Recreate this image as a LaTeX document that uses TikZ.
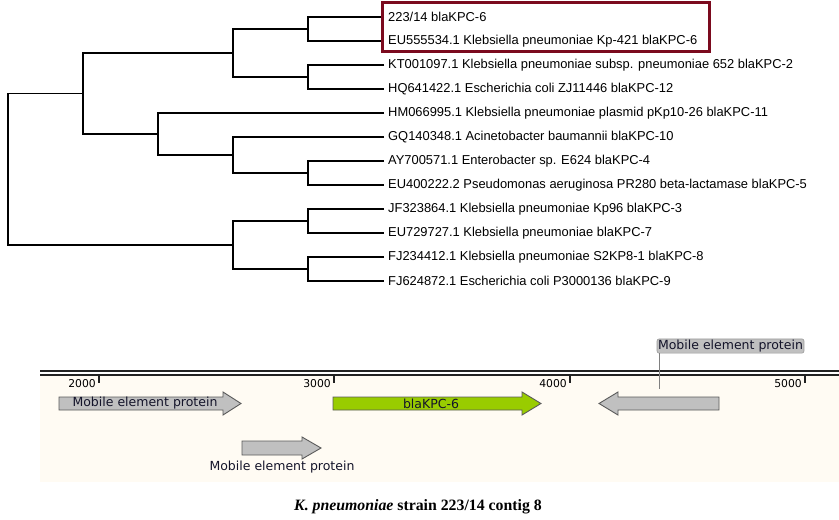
\documentclass[tikz,border=0pt]{standalone}
\usepackage{fontspec}
\setmainfont{Liberation Sans}
\newfontfamily\verd{DejaVu Sans}
\newfontfamily\capfont{Liberation Serif}
\definecolor{boxred}{HTML}{7B0A1E}
\definecolor{kpcgreen}{HTML}{99CC00}
\definecolor{genegray}{HTML}{C0C0C0}
\definecolor{geneedge}{HTML}{5A5A5A}
\definecolor{cream}{HTML}{FFFBF3}
\definecolor{ruler}{HTML}{222222}
\definecolor{labtext}{HTML}{14142A}
\begin{document}
\begin{tikzpicture}[x=1pt,y=-1pt,
  branch/.style={line width=1.3pt,black},
  leaf/.style={anchor=west,inner sep=0pt,font=\fontsize{12.9}{15}\selectfont},
  gene/.style={draw=geneedge,line width=0.9pt},
  genetext/.style={inner sep=0pt,font=\verd\fontsize{12.5}{14}\selectfont,text=labtext},
  ticklab/.style={anchor=base east,inner sep=0pt,font=\verd\fontsize{10.8}{12}\selectfont,text=black},
  tickmark/.style={line width=2pt,ruler},
  rulerline/.style={line width=2.3pt,ruler}]
\useasboundingbox (0,0) rectangle (839,520);
% ---------------- tree ----------------
\foreach \i/\t in {1/{223/14 blaKPC-6},
  2/{EU555534.1 Klebsiella pneumoniae Kp-421 blaKPC-6},
  3/{KT001097.1 Klebsiella pneumoniae subsp. pneumoniae 652 blaKPC-2},
  4/{HQ641422.1 Escherichia coli ZJ11446 blaKPC-12},
  5/{HM066995.1 Klebsiella pneumoniae plasmid pKp10-26 blaKPC-11},
  6/{GQ140348.1 Acinetobacter baumannii blaKPC-10},
  7/{AY700571.1 Enterobacter sp. E624 blaKPC-4},
  8/{EU400222.2 Pseudomonas aeruginosa PR280 beta-lactamase blaKPC-5},
  9/{JF323864.1 Klebsiella pneumoniae Kp96 blaKPC-3},
  10/{EU729727.1 Klebsiella pneumoniae blaKPC-7},
  11/{FJ234412.1 Klebsiella pneumoniae S2KP8-1 blaKPC-8},
  12/{FJ624872.1 Escherichia coli P3000136 blaKPC-9}}{
  \coordinate (e\i) at (384,{17+24*(\i-1)});
  \node[leaf] (t\i) at (388,{17+24*(\i-1)}) {\t};
}
\coordinate (p12) at (308,29);
\coordinate (p34) at (308,77);
\coordinate (q) at (233,53);
\coordinate (p78) at (308,173);
\coordinate (g) at (233,155);
\coordinate (h) at (158,134);
\coordinate (m) at (83,93.5);
\coordinate (p910) at (308,221);
\coordinate (p1112) at (308,269);
\coordinate (r) at (233,245);
\coordinate (root) at (8,169.25);
\draw[branch] (e1) -| (p12) |- (e2);
\draw[branch] (e3) -| (p34) |- (e4);
\draw[branch] (p12) -| (q) |- (p34);
\draw[branch] (e7) -| (p78) |- (e8);
\draw[branch] (e6) -| (g) |- (p78);
\draw[branch] (e5) -| (h) |- (g);
\draw[branch] (q) -| (m) |- (h);
\draw[branch] (e9) -| (p910) |- (e10);
\draw[branch] (e11) -| (p1112) |- (e12);
\draw[branch] (p910) -| (r) |- (p1112);
\draw[branch] (m) -| (root) |- (r);
% highlight box
\draw[boxred,line width=3pt] (382.5,2.5) rectangle (709.5,51.5);
% ---------------- contig map ----------------
\fill[cream] (40,376) rectangle (839,482);
\draw[rulerline] (40,371.2) -- (839,371.2);
\draw[rulerline] (40,375.2) -- (839,375.2);
\foreach \x/\l in {99/2000,334/3000,570/4000,805/5000}{
  \draw[tickmark] (\x,375) -- (\x,383);
  \node[ticklab] (k\l) at (\x-3,387) {\l};
}
% genes
\filldraw[gene,fill=genegray] (59,397) -- (223,397) -- (223,392) -- (241,403.5) -- (223,415) -- (223,410) -- (59,410) -- cycle;
\node[genetext] (g1) at (145,403.5) {Mobile element protein};
\filldraw[gene,fill=kpcgreen] (333,397) -- (522,397) -- (522,392) -- (541,403.5) -- (522,415) -- (522,410) -- (333,410) -- cycle;
\node[genetext] (g2) at (431,403.5) {blaKPC-6};
\filldraw[gene,fill=genegray] (719,397) -- (618,397) -- (618,392) -- (599,403.5) -- (618,415) -- (618,410) -- (719,410) -- cycle;
\filldraw[gene,fill=genegray] (242,441) -- (302,441) -- (302,437) -- (321,448) -- (302,459) -- (302,455) -- (242,455) -- cycle;
\node[genetext] (g4) at (282,467) {Mobile element protein};
% callout
\node[genetext,fill=genegray,draw=gray!80,line width=0.6pt,rounded corners=2pt,inner xsep=1pt,inner ysep=1pt,minimum height=14pt] (c3) at (730.5,346) {Mobile element protein};
\coordinate (c3foot) at (659,389);
\draw[gray,line width=0.8pt] (c3.south west -| c3foot) -- (c3foot);
% caption
\node[font=\capfont\bfseries\fontsize{15.8}{18}\selectfont] (cap) at (418,507) {\textit{K. pneumoniae} strain 223/14 contig 8};
\end{tikzpicture}
\end{document}
